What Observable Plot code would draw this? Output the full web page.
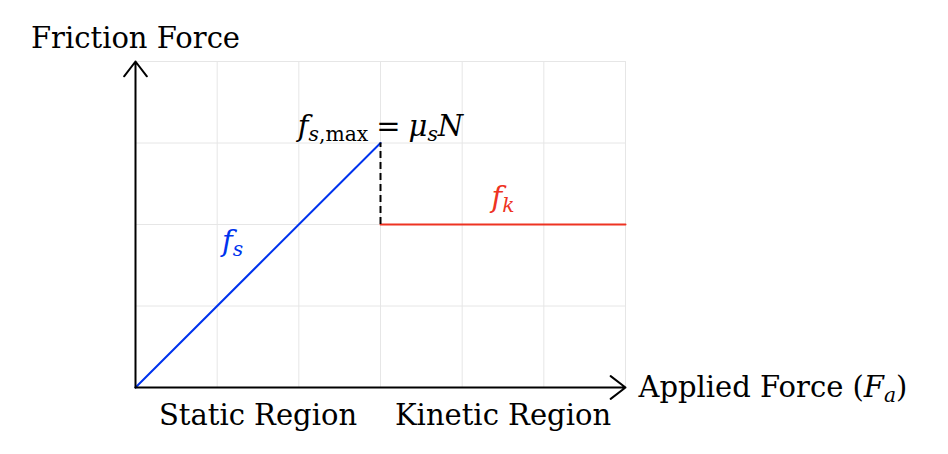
<!DOCTYPE html>
<html>
<head>
<meta charset="utf-8">
<script src="https://cdn.jsdelivr.net/npm/d3@7"></script>
<script src="https://cdn.jsdelivr.net/npm/@observablehq/plot@0.6"></script>
<style>
  html, body { margin: 0; padding: 0; background: #fff; }
  svg text { font-family: "DejaVu Serif", "Liberation Serif", serif; }
</style>
</head>
<body>
<div id="chart"></div>
<script>
// ---- data ----
const xMax = 6;           // applied force extent (grid units)
const yMax = 4;           // friction force extent
const gridX = [0, 1, 2, 3, 4, 5, 6];
const gridY = [0, 1, 2, 3, 4];
const staticX = [0, 3];   // f_s = applied force
const staticY = [0, 3];
const kineticX = [3, 6];  // f_k constant
const kineticY = [2, 2];
const fsMax = 3;
const fk = 2;
const breakX = 3;
const regionNames = ["Static Region", "Kinetic Region"];
const regionCenters = [1.5, 4.5];
const xTitle = "Applied Force (F_a)";
const yTitle = "Friction Force";
const labelFs = {x: 1.19, y: 1.79, text: "f_s"};
const labelFk = {x: 4.5, y: 2.33, text: "f_k"};
const labelMax = {x: 3, y: 3.2, text: "f_s,max = μ_s N"};

const staticLine = staticX.map((x, i) => ({x, y: staticY[i]}));
const kineticLine = kineticX.map((x, i) => ({x, y: kineticY[i]}));
const regions = regionNames.map((name, i) => ({name, x: regionCenters[i]}));

const BLUE = "#0033ee";
const RED = "#ee3322";
const FS = 29;

const plot = Plot.plot({
  width: 948,
  height: 454,
  marginLeft: 135,
  marginRight: 323,
  marginTop: 61,
  marginBottom: 67,
  x: {domain: [0, xMax], axis: null},
  y: {domain: [0, yMax], axis: null},
  style: {fontFamily: "DejaVu Serif, serif", fontSize: FS + "px", overflow: "visible"},
  marks: [
    Plot.ruleX(gridX, {x: d => d, y1: 0, y2: yMax, stroke: "#e6e6e6", strokeWidth: 1}),
    Plot.ruleY(gridY, {y: d => d, x1: 0, x2: xMax, stroke: "#e6e6e6", strokeWidth: 1}),
    Plot.line(staticLine, {x: "x", y: "y", stroke: BLUE, strokeWidth: 2}),
    Plot.line(kineticLine, {x: "x", y: "y", stroke: RED, strokeWidth: 2}),
    Plot.ruleX([breakX], {x: d => d, y1: fk, y2: fsMax, stroke: "#000", strokeWidth: 2, strokeDasharray: "7,4"}),
    Plot.arrow([{x1: 0, y1: 0, x2: xMax, y2: 0}], {x1: "x1", y1: "y1", x2: "x2", y2: "y2", stroke: "#000", strokeWidth: 2, headLength: 14, headAngle: 75, insetEnd: 0}),
    Plot.arrow([{x1: 0, y1: 0, x2: 0, y2: yMax}], {x1: "x1", y1: "y1", x2: "x2", y2: "y2", stroke: "#000", strokeWidth: 2, headLength: 14, headAngle: 75, insetEnd: 0}),
    Plot.text([yTitle], {x: () => 0, y: () => yMax, text: d => d, dy: -23, textAnchor: "middle", fill: "#000", fontSize: FS}),
    Plot.text([xTitle], {x: () => xMax, y: () => 0, text: d => d, dx: 13, textAnchor: "start", fill: "#000", fontSize: FS, className: "math-x"}),
    Plot.text(regions, {x: "x", y: () => 0, text: "name", dy: 28, textAnchor: "middle", fill: "#000", fontSize: FS}),
    Plot.text([labelFs], {x: "x", y: "y", text: "text", fill: BLUE, fontSize: FS, className: "math-fs"}),
    Plot.text([labelFk], {x: "x", y: "y", text: "text", fill: RED, fontSize: FS, className: "math-fk"}),
    Plot.text([labelMax], {x: "x", y: "y", text: "text", fill: "#000", fontSize: FS, className: "math-max"})
  ]
});
document.getElementById("chart").appendChild(plot);

// ---- render simple math as italic letters with subscripts ----
function setMath(sel, parts) {
  d3.select(plot).selectAll(sel + " text").each(function() {
    const t = d3.select(this);
    t.text(null);
    parts.forEach(p => {
      const ts = t.append("tspan").text(p.t);
      if (p.it) ts.attr("font-style", "italic");
      if (p.sub) ts.attr("baseline-shift", "-25%").attr("font-size", "70%");
      if (p.dx) ts.attr("dx", p.dx);
    });
  });
}
setMath(".math-x", [{t: "Applied Force ("}, {t: "F", it: 1}, {t: "a", it: 1, sub: 1}, {t: ")"}]);
setMath(".math-fs", [{t: "f", it: 1}, {t: "s", it: 1, sub: 1}]);
setMath(".math-fk", [{t: "f", it: 1}, {t: "k", it: 1, sub: 1}]);
setMath(".math-max", [{t: "f", it: 1}, {t: "s", it: 1, sub: 1}, {t: ",max", sub: 1}, {t: "=", dx: 8}, {t: "μ", it: 1, dx: 8}, {t: "s", it: 1, sub: 1}, {t: "N", it: 1}]);
</script>
</body>
</html>
